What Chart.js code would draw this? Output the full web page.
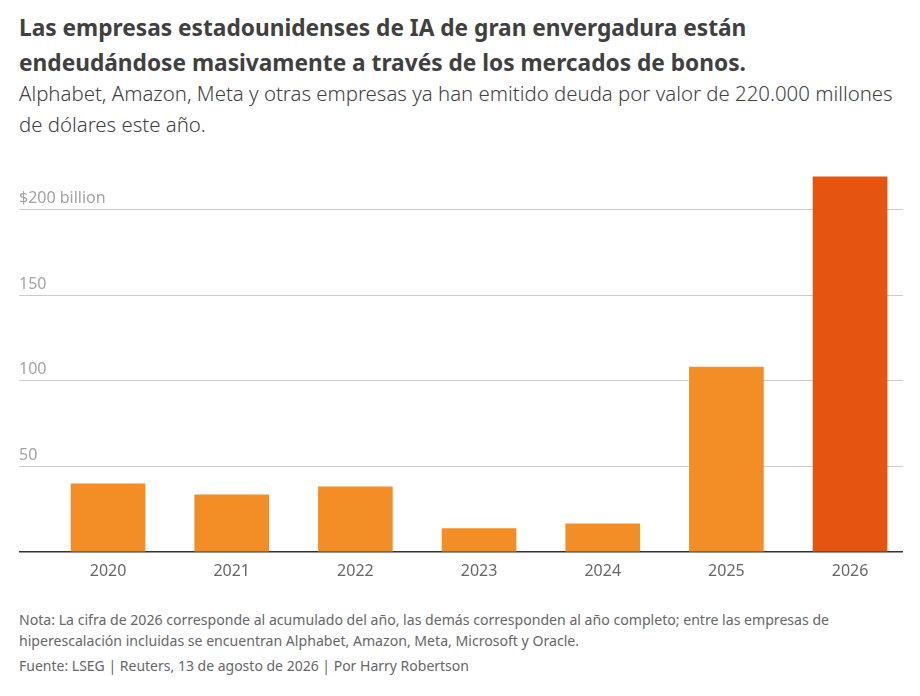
<!DOCTYPE html>
<html>
<head>
<meta charset="utf-8">
<script src="https://cdn.jsdelivr.net/npm/chart.js@4.4.1/dist/chart.umd.min.js"></script>
<style>
  body { margin: 0; background: #fff; width: 920px; height: 696px; position: relative; overflow: hidden; font-family: "Noto Sans", sans-serif; }
  .title { position: absolute; left: 19px; top: 10px; font-size: 22.7px; font-weight: 700; color: #404040; line-height: 35px; white-space: nowrap; }
  .sub { position: absolute; left: 19px; top: 78px; font-size: 20.4px; font-weight: 300; color: #404040; line-height: 31px; white-space: nowrap; }
  .chart-box { position: absolute; left: 0; top: 160px; width: 920px; height: 430px; }
  .note { position: absolute; left: 19px; top: 609px; font-size: 14.1px; color: #666; line-height: 21px; white-space: nowrap; }
  .src { position: absolute; left: 19px; top: 656px; font-size: 14px; color: #666; white-space: nowrap; }
</style>
</head>
<body>
<div class="title">Las empresas estadounidenses de IA de gran envergadura están<br>endeudándose masivamente a través de los mercados de bonos.</div>
<div class="sub">Alphabet, Amazon, Meta y otras empresas ya han emitido deuda por valor de 220.000 millones<br>de dólares este año.</div>
<div class="chart-box"><canvas id="chart"></canvas></div>
<div class="note">Nota: La cifra de 2026 corresponde al acumulado del año, las demás corresponden al año completo; entre las empresas de<br>hiperescalación incluidas se encuentran Alphabet, Amazon, Meta, Microsoft y Oracle.</div>
<div class="src">Fuente: LSEG | Reuters, 13 de agosto de 2026 | Por Harry Robertson</div>

<script>
// datos (miles de millones de dólares)
const years = ['2020', '2021', '2022', '2023', '2024', '2025', '2026'];
const debt = [39.8, 33.4, 38.1, 13.6, 16.5, 108, 219];
const barColors = ['#f38e26', '#f38e26', '#f38e26', '#f38e26', '#f38e26', '#f38e26', '#e5550f'];
const yTicks = [0, 50, 100, 150, 200];

const ctx = document.getElementById('chart').getContext('2d');
new Chart(ctx, {
    type: 'bar',
    data: {
        datasets: [{
            data: debt.map((v, i) => ({ x: i, y: v })),
            backgroundColor: barColors,
            barThickness: 74
        }]
    },
    options: {
        responsive: true,
        maintainAspectRatio: false,
        animation: false,
        layout: { padding: { left: 19, right: 17, top: 10, bottom: 0 } },
        plugins: { legend: { display: false }, tooltip: { enabled: false } },
        scales: {
            x: {
                type: 'linear',
                offset: false,
                min: -0.72,
                max: 6.428,
                grid: { display: false, drawTicks: false },
                border: { display: false },
                afterBuildTicks: s => { s.ticks = years.map((y, i) => ({ value: i })); },
                afterFit: s => { s.height = 38; },
                ticks: {
                    padding: 10,
                    color: '#666',
                    font: { family: 'Noto Sans', size: 16 },
                    callback: v => years[v] ?? ''
                }
            },
            y: {
                min: 0,
                max: 223,
                afterBuildTicks: s => { s.ticks = yTicks.map(v => ({ value: v })); },
                afterFit: s => { s.width = 0; },
                border: { display: false },
                grid: {
                    drawTicks: false,
                    color: c => c.tick.value === 0 ? '#333' : '#cccccc',
                    lineWidth: c => c.tick.value === 0 ? 1.5 : 1
                },
                ticks: {
                    mirror: true,
                    padding: 0,
                    labelOffset: -11,
                    color: '#a3a3a3',
                    font: { family: 'Noto Sans', size: 16 },
                    callback: v => v === 0 ? '' : (v === 200 ? '$200 billion' : String(v))
                }
            }
        }
    }
});
</script>
</body>
</html>
